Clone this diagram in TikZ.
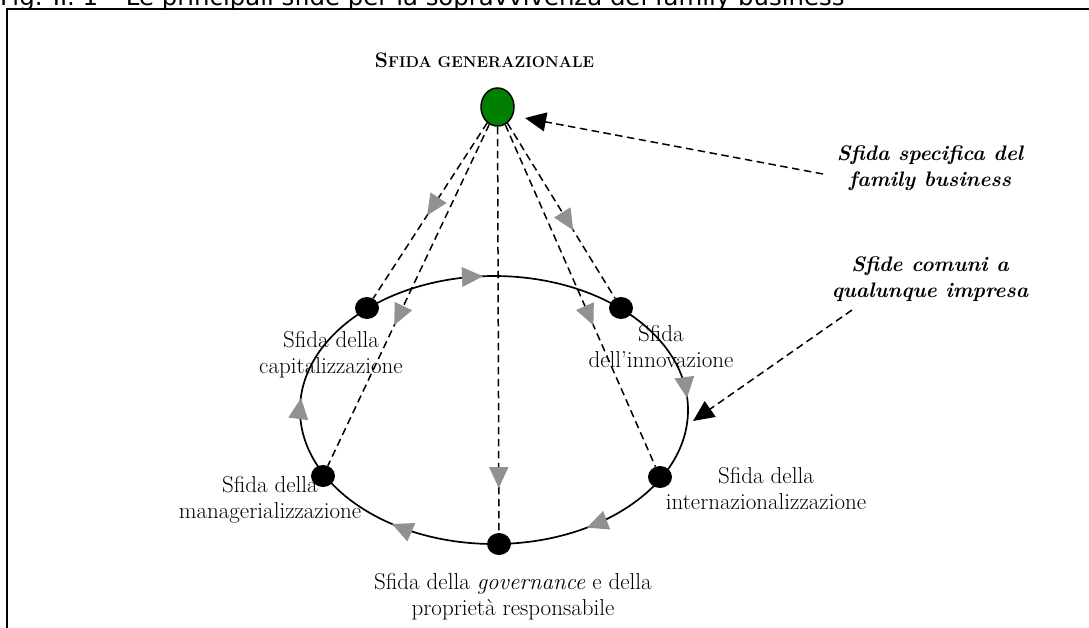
\documentclass[tikz,border=0pt]{standalone}
\usepackage{fontspec}
\newfontfamily\capfont{DejaVu Sans}
\usetikzlibrary{shapes.geometric,arrows.meta,decorations.markings,calc}
\definecolor{arrgray}{RGB}{145,145,145}
\definecolor{gfill}{RGB}{0,128,0}
\begin{document}
\begin{tikzpicture}[x=1pt,y=-1pt,
  dot/.style={ellipse,fill=black,inner sep=0pt,minimum width=24pt,minimum height=22pt},
  gnode/.style={ellipse,draw=black,line width=1.5pt,fill=gfill,inner sep=0pt,minimum width=33pt,minimum height=38pt},
  lbl/.style={align=center,font=\fontsize{23}{25.5}\selectfont,inner sep=0pt,anchor=base},
  ilbl/.style={align=center,font=\fontsize{21}{26}\selectfont\bfseries\itshape\addfontfeatures{LetterSpace=2},inner sep=0pt,anchor=base},
  dline/.style={dash pattern=on 7.5pt off 4.5pt,line width=1.5pt},
  gmid/.style={postaction={decorate,decoration={markings,mark=at position #1 with {\arrow[arrgray]{Triangle[length=21pt,width=19pt]}}}}},
  btip/.style={-{Triangle[length=21pt,width=19pt]}},
  gtri/.pic={\fill[arrgray] (0,0) -- (-21,10) -- (-21,-10) -- cycle;}
]
\useasboundingbox (0,0) rectangle (1089,627);
% caption (clipped at the top)
\node[anchor=base west,inner sep=0pt,font=\capfont\fontsize{24.4}{28}\selectfont] (cap0) at (0,5) {Fig. II. 1 – Le principali sfide per la sopravvivenza del family business};
% frame
\draw[line width=1.8pt] (7,628) -- (7,9) -- (1089,9);
% title
\node[anchor=base,inner sep=0pt,font=\bfseries] (tit) at (484.5,67) {\fontsize{21}{25}\selectfont S\fontsize{15.6}{20}\selectfont FIDA GENERAZIONALE};
% cycle ellipse
\draw[line width=1.7pt] (494,410) ellipse [x radius=194pt, y radius=134pt];
\pic[rotate=2.2] at (483,276.2) {gtri};
\pic[rotate=-82.6] at (687,398) {gtri};
\pic[rotate=200.7] at (587,527.6) {gtri};
\pic[rotate=156.9] at (392,524) {gtri};
\pic[rotate=82.6] at (301,398) {gtri};
% nodes
\node[gnode] (g) at (497.5,107) {};
\node[dot] (c) at (367,308) {};
\node[dot] (i) at (621,308) {};
\node[dot] (n) at (660,477) {};
\node[dot] (gv) at (499,544) {};
\node[dot] (m) at (323,476) {};
% dashed connectors from the generational challenge
\draw[dline,gmid=.527] (g) -- (c);
\draw[dline,gmid=.588] (g) -- (m);
\draw[dline,gmid=.89] (g) -- (gv);
\draw[dline,gmid=.612] (g) -- (i);
\draw[dline,gmid=.587] (g) -- (n);
% labels (anchor = baseline of the last line)
\node[lbl] (lc) at (331,373) {Sfida della\\capitalizzazione};
\node[lbl] (li) at (661,367) {Sfida\\dell’innovazione};
\node[lbl] (ln) at (766,509) {Sfida della\\internazionalizzazione};
\node[lbl] (lm) at (270,518) {Sfida della\\managerializzazione};
\node[lbl] (lg) at (513,615) {Sfida della \textit{governance} e della\\proprietà responsabile};
\node[ilbl] (spec) at (930,186) {Sfida specifica del\\family business};
\node[ilbl] (comm) at (930,297) {Sfide comuni a\\qualunque impresa};
% annotation arrows
\coordinate (s1) at (823,174);
\coordinate (t1) at (525,118);
\draw[dline,btip] (s1) -- (t1);
\coordinate (s2) at (852,310);
\coordinate (t2) at (693,421);
\draw[dline,btip] (s2) -- (t2);
\end{tikzpicture}
\end{document}
